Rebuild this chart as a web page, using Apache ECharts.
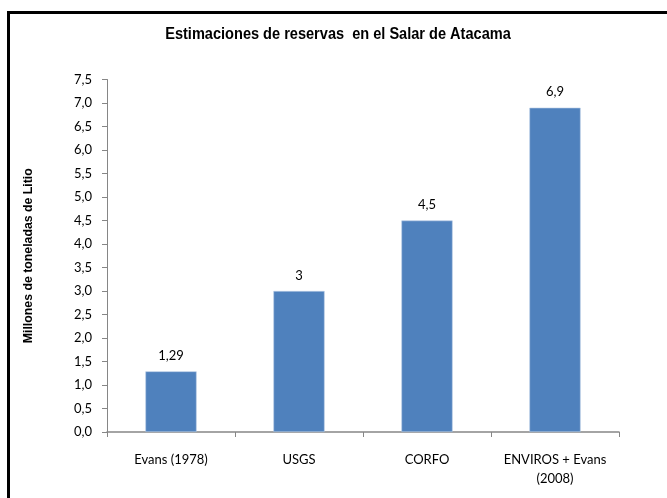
<!DOCTYPE html>
<html><head><meta charset="utf-8">
<script src="https://cdn.jsdelivr.net/npm/echarts@6/dist/echarts.min.js"></script>
<style>html,body{margin:0;padding:0;background:#fff}#c{width:667px;height:498px}</style>
</head><body><div id="c"></div>
<script>
const chartTitle = 'Estimaciones de reservas  en el Salar de Atacama';
const yAxisTitle = 'Millones de toneladas de Litio';
const categories = ['Evans (1978)', 'USGS', 'CORFO', 'ENVIROS + Evans\n(2008)'];
const reserves = [1.29, 3, 4.5, 6.9];
const valueLabels = ['1,29', '3', '4,5', '6,9'];

const chart = echarts.init(document.getElementById('c'), null, {renderer: 'canvas'});
const labelFont = 'Lato, "Open Sans", sans-serif';
chart.setOption({
  animation: false,
  backgroundColor: '#fff',
  graphic: [{
    type: 'rect', left: 6, top: 10, silent: true,
    shape: {width: 700, height: 520},
    style: {fill: 'none', stroke: '#000', lineWidth: 3}
  }, {
    type: 'text', x: 338, y: 35, scaleX: 0.91, silent: true,
    style: {text: chartTitle, fill: '#000', align: 'center', verticalAlign: 'middle',
      font: 'bold 16px "Liberation Sans", Arial, sans-serif'}
  }],
  grid: {left: 107, right: 48, top: 79.5, bottom: 66, containLabel: false},
  xAxis: {
    type: 'category', data: categories,
    axisLine: {lineStyle: {color: '#868686', width: 1.5}},
    axisTick: {show: true, alignWithLabel: false, length: 5, lineStyle: {color: '#868686'}},
    axisLabel: {margin: 18, color: '#000', fontFamily: labelFont, fontSize: 13, lineHeight: 19, interval: 0}
  },
  yAxis: {
    type: 'value', min: 0, max: 7.5, interval: 0.5,
    name: yAxisTitle, nameLocation: 'middle', nameGap: 72, nameRotate: 90,
    nameTextStyle: {fontFamily: '"Liberation Sans", Arial, sans-serif', fontWeight: 'bold', fontSize: 12.3, color: '#000'},
    axisLine: {show: true, lineStyle: {color: '#868686', width: 1}},
    axisTick: {show: true, length: 5, lineStyle: {color: '#868686'}},
    splitLine: {show: false},
    axisLabel: {margin: 15, color: '#000', fontFamily: labelFont, fontSize: 13,
      formatter: v => v.toFixed(1).replace('.', ',')}
  },
  series: [{
    type: 'bar', data: reserves, barWidth: '40%',
    itemStyle: {color: '#4F81BD', borderColor: '#B9CDE5', borderWidth: 0.6},
    label: {show: true, position: 'top', distance: 9, color: '#000', fontFamily: labelFont, fontSize: 13,
      formatter: p => valueLabels[p.dataIndex]}
  }]
});
</script></body></html>
